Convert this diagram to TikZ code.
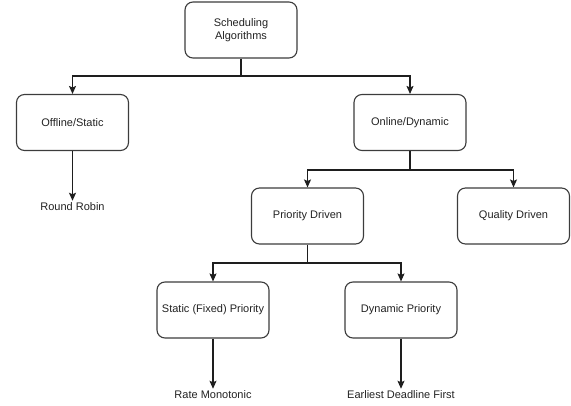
\documentclass[tikz,border=0pt]{standalone}
\usepackage{fontspec}
\setmainfont{Liberation Sans}
\usetikzlibrary{arrows.meta}
\definecolor{txt}{HTML}{222222}
\definecolor{ln}{HTML}{1E1E1E}
\definecolor{bd}{HTML}{3C3C3C}
\begin{document}
\begin{tikzpicture}[x=1pt,y=-1pt,
  box/.style={draw=bd,line width=1.1pt,rounded corners=8pt,minimum width=112pt,minimum height=56pt,
    align=center,font=\fontsize{11}{13}\selectfont,text=txt,inner sep=2pt},
  leaf/.style={font=\fontsize{11}{13}\selectfont,text=txt,inner sep=2pt},
  arr/.style={draw=ln,line width=1.1pt,-{Stealth[length=8pt,width=7pt,inset=1.5pt]}},
  con/.style={draw=ln,line width=1.1pt}]
\useasboundingbox (0,0) rectangle (571,405);
\node[box] (sa) at (241,30) {Scheduling\\Algorithms};
\node[box] (off) at (72.5,122.5) {Offline/Static};
\node[box] (on) at (410,122.5) {Online/Dynamic};
\node[box] (pd) at (307.5,216) {Priority Driven};
\node[box] (qd) at (513.5,216) {Quality Driven};
\node[box] (sp) at (213,310) {Static (Fixed) Priority};
\node[box] (dp) at (401,310) {Dynamic Priority};
\node[leaf] (rr) at (72.5,207) {Round Robin};
\node[leaf] (rm) at (213,395) {Rate Monotonic};
\node[leaf] (edf) at (401,395) {Earliest Deadline First};
\coordinate (j1) at (241,76);
\coordinate (j2) at (410,170);
\coordinate (j3) at (307.5,263);
\draw[con] (sa) -- (j1);
\draw[arr] (j1) -| (off);
\draw[arr] (j1) -| (on);
\draw[con] (on) -- (j2);
\draw[arr] (j2) -| (pd);
\draw[arr] (j2) -| (qd);
\draw[con] (pd) -- (j3);
\draw[arr] (j3) -| (sp);
\draw[arr] (j3) -| (dp);
\draw[arr] (off) -- (rr);
\draw[arr] (sp) -- (rm);
\draw[arr] (dp) -- (edf);
\end{tikzpicture}
\end{document}
